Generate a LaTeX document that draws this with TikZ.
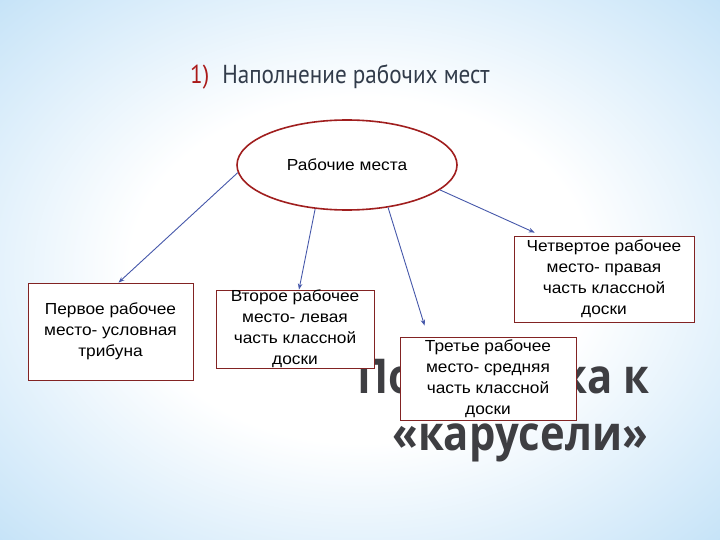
\documentclass[tikz,border=0pt]{standalone}
\usepackage{fontspec}
\setmainfont{Liberation Sans}[FakeStretch=1.08]
\newfontfamily\titlefont{PT Sans}[FakeStretch=0.89]
\newfontfamily\bigfont{Open Sans}[FakeStretch=0.87]
\usetikzlibrary{shapes.geometric,arrows.meta}

\definecolor{bgblue}{RGB}{138,198,240}
\definecolor{boxred}{RGB}{130,35,35}
\definecolor{ellred}{RGB}{160,30,30}
\definecolor{arrowblue}{RGB}{70,88,170}
\definecolor{titlegray}{RGB}{50,60,75}
\definecolor{titlered}{RGB}{170,25,25}
\definecolor{bigtext}{RGB}{62,62,66}

\pgfdeclareradialshading{slidebg}{\pgfpoint{0bp}{0bp}}{%
	color(0bp)=(white); color(16bp)=(white); color(34bp)=(bgblue!45);
	color(50bp)=(bgblue!90); color(72bp)=(bgblue)}

\tikzset{
	placebox/.style={draw=boxred,fill=white,line width=0.8pt,inner sep=0pt},
	placetext/.style={align=center,font=\fontsize{16}{21}\selectfont,text=black},
	arr/.style={-{Stealth[length=6pt,width=4.5pt]},draw=arrowblue,line width=0.9pt},
}

\begin{document}
\begin{tikzpicture}[x=1pt,y=-1pt]
	%BACKGROUND
	\shade[shading=slidebg] (0,0) rectangle (720,540);
	\useasboundingbox (0,0) rectangle (720,540);
	
	%TITLE
	\node[anchor=base west,inner sep=0pt,text=titlegray,
		font=\titlefont\fontsize{26}{30}\selectfont] (title) at (190,84)
		{\textcolor{titlered}{1)}\hspace{13pt}Наполнение рабочих мест};
	
	%BIG TEXT (behind the boxes)
	\node[anchor=base east,inner sep=0pt,text=bigtext,
		font=\bigfont\bfseries\fontsize{48}{57}\selectfont] (slidetitle) at (650,393) {Подготовка к};
	\node[anchor=base east,inner sep=0pt,text=bigtext,
		font=\bigfont\bfseries\fontsize{48}{57}\selectfont] (slidetitleb) at (648,450) {«карусели»};
	
	%CENTRE
	\node[ellipse,draw=ellred,fill=white,line width=1.6pt,inner sep=0pt,
		minimum width=220pt,minimum height=90pt,
		font=\fontsize{16}{20}\selectfont] (places) at (347,165) {Рабочие места};
	
	%BOXES
	\foreach \n/\x/\y/\w/\h/\txt in {
		box1/110.5/331.5/165/97/{Первое рабочее\\место- условная\\трибуна},
		box2/295/329/158/78/{Второе рабочее\\место- левая\\часть классной\\доски},
		box3/488/378.5/176/83/{Третье рабочее\\место- средняя\\часть классной\\доски},
		box4/604/279/180/86/{Четвертое рабочее\\место- правая\\часть классной\\доски}}{
		\node[placebox,minimum width=\w pt,minimum height=\h pt] (\n) at (\x,\y) {};
		\node[placetext] at (\n) {\txt};
	}
	
	%ARROWS
	\draw[arr] (places.184) -- ([xshift=8pt]box1.north);
	\draw[arr] (places.234) -- ([xshift=4pt]box2.north);
	\draw[arr] (places.314) -- ([shift={(25pt,11pt)}]box3.north west);
	\draw[arr] (places.345) -- ([shift={(21pt,3pt)}]box4.north west);
\end{tikzpicture}
\end{document}
